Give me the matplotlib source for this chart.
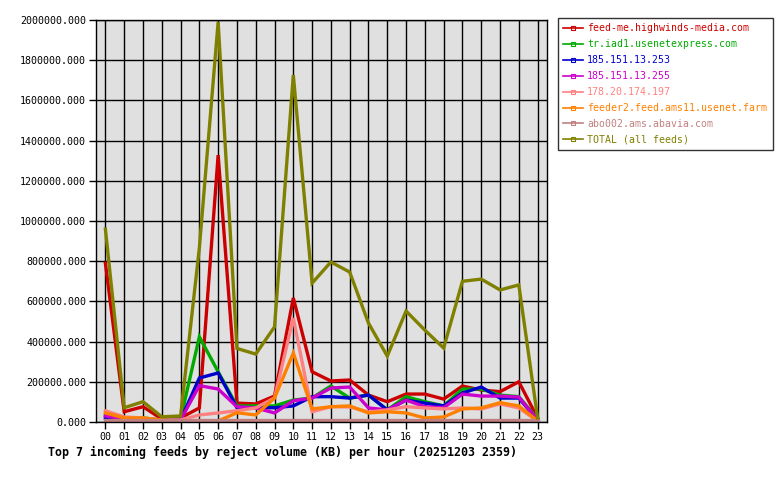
import numpy as np
import matplotlib.pyplot as plt

hours = ["%02d" % h for h in range(24)]

feed_names = [
    "feed-me.highwinds-media.com",
    "tr.iad1.usenetexpress.com",
    "185.151.13.253",
    "185.151.13.255",
    "178.20.174.197",
    "feeder2.feed.ams11.usenet.farm",
    "abo002.ams.abavia.com",
    "TOTAL (all feeds)",
]
feed_colors = ["#cc0000", "#00aa00", "#0000cc", "#cc00cc",
               "#ff8080", "#ff8000", "#c08080", "#808000"]

highwinds = [790000, 51000, 76000, 15000, 20000, 70000, 1328000, 94000, 90000, 129000,
             617000, 250000, 204000, 209000, 134000, 101000, 139000, 139000, 114000, 179000,
             159000, 151000, 200000, 20000]
usenetexpress = [35000, 20000, 20000, 10000, 15000, 424000, 250000, 80000, 80000, 80000,
                 109000, 120000, 179000, 119000, 134000, 60000, 126000, 101000, 80000, 164000,
                 164000, 134000, 126000, 15000]
ip_253 = [20000, 15000, 10000, 8000, 10000, 219000, 244000, 71000, 71000, 71000,
          80000, 126000, 126000, 119000, 134000, 60000, 109000, 94000, 80000, 144000,
          174000, 119000, 119000, 10000]
ip_255 = [30000, 15000, 10000, 8000, 10000, 181000, 164000, 76000, 70000, 45000,
          106000, 119000, 169000, 174000, 70000, 60000, 109000, 76000, 71000, 139000,
          129000, 129000, 124000, 10000]
ip_197 = [56000, 25000, 20000, 10000, 10000, 35000, 45000, 56000, 70000, 120000,
          517000, 51000, 76000, 75000, 50000, 60000, 76000, 70000, 65000, 70000,
          65000, 90000, 70000, 5000]
ams11 = [45000, 20000, 20000, 10000, 5000, 2000, 5000, 46000, 35000, 119000,
         343000, 65000, 76000, 80000, 45000, 51000, 45000, 20000, 25000, 65000,
         70000, 96000, 80000, 5000]
abavia = [8000, 8000, 8000, 8000, 8000, 8000, 8000, 8000, 8000, 8000,
          8000, 8000, 8000, 8000, 8000, 8000, 8000, 8000, 8000, 8000,
          8000, 8000, 8000, 8000]
total = [960000, 71000, 101000, 26000, 30000, 866000, 1990000, 366000, 338000, 473000,
         1726000, 691000, 796000, 746000, 492000, 328000, 552000, 457000, 368000, 700000,
         711000, 657000, 682000, 20000]

series = [highwinds, usenetexpress, ip_253, ip_255, ip_197, ams11, abavia, total]

plt.rcParams['font.family'] = ['DejaVu Sans Mono']

fig = plt.figure(figsize=(7.8, 4.8), dpi=100)
ax = fig.add_axes([96 / 780, 1 - 422 / 480, (547 - 96) / 780, (422 - 20) / 480])
ax.set_facecolor("#e0e0e0")

x = np.arange(len(hours))
for name, color, vals in zip(feed_names, feed_colors, series):
    ax.plot(x, vals, color=color, linewidth=2.4, label=name, solid_joinstyle="miter")

ax.set_xlim(-0.5, 23.5)
ax.set_ylim(0, 2000000)
ax.set_xticks(x)
ax.set_xticklabels(hours, fontsize=7.2)
yt = np.arange(0, 2000001, 200000)
ax.set_yticks(yt)
ax.set_yticklabels(["%.3f" % v for v in yt], fontsize=7.2)
ax.tick_params(direction="out", length=5, width=1, color="black", pad=2)
ax.grid(True, color="black", linewidth=1.0)
ax.set_axisbelow(True)
for s in ax.spines.values():
    s.set_color("black")
    s.set_linewidth(1.0)

# legend handles: thin line with a small square in the middle
handles = []
for name, color in zip(feed_names, feed_colors):
    h, = ax.plot([], [], color=color, linewidth=1.2, marker="s", markersize=3,
                 markerfacecolor="none", markeredgecolor=color, markeredgewidth=0.8)
    handles.append(h)
leg = fig.legend(handles, feed_names, loc="upper left",
                 bbox_to_anchor=(558 / 780, 1 - 18 / 480),
                 fontsize=7.1, frameon=True, fancybox=False, borderpad=0.55,
                 handlelength=2.0, handletextpad=0.4, labelspacing=0.6,
                 labelcolor=feed_colors, borderaxespad=0)
leg.get_frame().set_edgecolor("black")
leg.get_frame().set_linewidth(1.0)

fig.text(48 / 780, 1 - 452 / 480,
         "Top 7 incoming feeds by reject volume (KB) per hour (20251203 2359)",
         fontsize=8.35, fontweight="bold", va="center", ha="left")

fig.savefig("out.png", dpi=100, facecolor="white")
